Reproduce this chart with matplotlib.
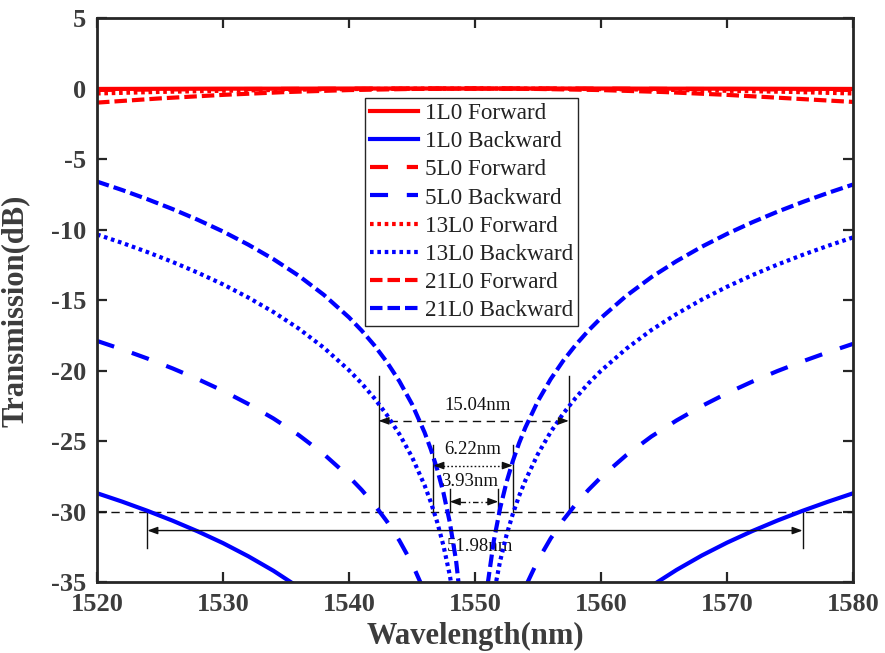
import numpy as np
import matplotlib
matplotlib.use("Agg")
import matplotlib.pyplot as plt

plt.rcParams['font.family'] = ['Liberation Serif', 'DejaVu Serif']
plt.rcParams['axes.unicode_minus'] = False
plt.rcParams['lines.scale_dashes'] = False

# ---------------- data ----------------
wl_fwd = [1520, 1525, 1530, 1535, 1540, 1545, 1550, 1555, 1560, 1565, 1570, 1575, 1580]
fwd_1L0 = [-0.03, -0.02, -0.01, -0.01, 0.0, 0.0, 0.0, 0.0, 0.0, -0.01, -0.01, -0.02, -0.03]
fwd_5L0 = [-0.10, -0.07, -0.045, -0.025, -0.01, 0.0, 0.0, 0.0, -0.01, -0.025, -0.045, -0.07, -0.10]
fwd_13L0 = [-0.35, -0.24, -0.16, -0.09, -0.04, -0.01, 0.0, -0.01, -0.04, -0.09, -0.16, -0.24, -0.35]
fwd_21L0 = [-1.0, -0.70, -0.45, -0.25, -0.11, -0.03, 0.0, -0.03, -0.11, -0.25, -0.45, -0.70, -0.95]

wl_bwd = [1520, 1522, 1524, 1526, 1528, 1530, 1532, 1534, 1536, 1538, 1540,
          1541, 1542, 1543, 1544, 1545, 1546, 1546.5, 1547, 1547.5, 1548, 1548.5,
          1549, 1549.5, 1550, 1550.5, 1551, 1551.5, 1552, 1552.5, 1553, 1553.5,
          1554, 1555, 1556, 1557, 1558, 1559, 1560, 1562, 1564, 1566, 1568, 1570,
          1572, 1574, 1576, 1578, 1580]
bwd_1L0 = [-28.7, -29.3, -29.95, -30.65, -31.41, -32.24, -33.17, -34.2, -35.37, -36.73, -38.33,
           -39.26, -40.3, -41.49, -42.86, -44.48, -46.49, -47.7, -49.1, -50.78, -52.86, -55.59,
           -59.61, -67.32, -74.78, -62.04, -57.09, -53.95, -51.65, -49.83, -48.33, -47.05,
           -45.94, -44.06, -42.52, -41.21, -40.08, -39.07, -38.17, -36.61, -35.28, -34.14, -33.12, -32.21,
           -31.39, -30.64, -29.95, -29.31, -28.71]
bwd_5L0 = [-17.9, -18.5, -19.15, -19.85, -20.61, -21.44, -22.37, -23.4, -24.57, -25.93, -27.53,
           -28.46, -29.5, -30.69, -32.06, -33.68, -35.69, -36.9, -38.3, -39.98, -42.06, -44.79,
           -48.81, -56.52, -64.18, -51.44, -46.49, -43.35, -41.05, -39.23, -37.73, -36.45,
           -35.34, -33.46, -31.92, -30.61, -29.48, -28.47, -27.57, -26.01, -24.68, -23.54, -22.52, -21.61,
           -20.79, -20.04, -19.35, -18.71, -18.11]
bwd_13L0 = [-10.35, -10.95, -11.6, -12.3, -13.06, -13.89, -14.82, -15.85, -17.02, -18.38, -19.98,
            -20.91, -21.95, -23.14, -24.51, -26.13, -28.14, -29.35, -30.75, -32.43, -34.51, -37.24,
            -41.26, -48.97, -56.63, -43.89, -38.94, -35.8, -33.5, -31.68, -30.18, -28.9,
            -27.79, -25.91, -24.37, -23.06, -21.93, -20.92, -20.02, -18.46, -17.13, -15.99, -14.97, -14.06,
            -13.24, -12.49, -11.8, -11.16, -10.56]
bwd_21L0 = [-6.6, -7.2, -7.85, -8.55, -9.31, -10.14, -11.07, -12.1, -13.27, -14.63, -16.23,
            -17.16, -18.2, -19.39, -20.76, -22.38, -24.39, -25.6, -27.0, -28.68, -30.76, -33.49,
            -37.51, -45.22, -52.88, -40.14, -35.19, -32.05, -29.75, -27.93, -26.43, -25.15,
            -24.04, -22.16, -20.62, -19.31, -18.18, -17.17, -16.27, -14.71, -13.38, -12.24, -11.22, -10.31,
            -9.49, -8.74, -8.05, -7.41, -6.81]

labels = ['1L0 Forward', '1L0 Backward', '5L0 Forward', '5L0 Backward',
          '13L0 Forward', '13L0 Backward', '21L0 Forward', '21L0 Backward']

x_ticks = [1520, 1530, 1540, 1550, 1560, 1570, 1580]
y_ticks = [5, 0, -5, -10, -15, -20, -25, -30, -35]

# ---------------- styles ----------------
RED = '#ff0000'
BLUE = '#0000ff'
LW = 3.0
ls_solid = '-'
ls_5 = (0, (13, 13.5))
ls_13 = (0, (2.6, 2.7))
ls_21 = (0, (9, 3.6))

fig = plt.figure(figsize=(8.85, 6.53), dpi=100)
ax = fig.add_axes([0.1096, 0.1087, 0.8542, 0.8637])

series = [
    (wl_fwd, fwd_1L0, RED, ls_solid),
    (wl_bwd, bwd_1L0, BLUE, ls_solid),
    (wl_fwd, fwd_5L0, RED, ls_5),
    (wl_bwd, bwd_5L0, BLUE, ls_5),
    (wl_fwd, fwd_13L0, RED, ls_13),
    (wl_bwd, bwd_13L0, BLUE, ls_13),
    (wl_fwd, fwd_21L0, RED, ls_21),
    (wl_bwd, bwd_21L0, BLUE, ls_21),
]
handles = []
for (x, y, c, ls), lab in zip(series, labels):
    h, = ax.plot(x, y, color=c, lw=LW, linestyle=ls, label=lab, dash_capstyle='butt', zorder=3)
    handles.append(h)

# ---------------- annotations ----------------
K = '#111111'
ax.axhline(-30, color=K, lw=1.0, linestyle=(0, (6, 4)), zorder=2)

def arrow_end(x_from, x_to, y):
    ax.annotate('', xy=(x_to, y), xytext=(x_from, y),
                arrowprops=dict(arrowstyle='-|>,head_length=0.6,head_width=0.22',
                                color=K, lw=1.0, shrinkA=0, shrinkB=0,
                                mutation_scale=10))

# 51.98 nm
ax.plot([1524.0, 1524.0], [-30, -32.6], color=K, lw=1.0)
ax.plot([1576.0, 1576.0], [-30, -32.6], color=K, lw=1.0)
ax.annotate('', xy=(1524.0, -31.35), xytext=(1576.0, -31.35),
            arrowprops=dict(arrowstyle='<|-|>,head_length=0.6,head_width=0.22',
                            color=K, lw=1.0, shrinkA=0, shrinkB=0, mutation_scale=10))
ax.text(1550.4, -32.5, '51.98nm', ha='center', va='center', fontsize=13.5, color=K, zorder=1)

# 15.04 nm
for xv in (1542.35, 1557.45):
    ax.plot([xv, xv], [-20.4, -30], color=K, lw=1.0)
ax.plot([1543.2, 1556.6], [-23.57, -23.57], color=K, lw=1.0, linestyle=(0, (6, 4)))
arrow_end(1543.2, 1542.35, -23.57)
arrow_end(1556.6, 1557.45, -23.57)
ax.text(1550.2, -22.5, '15.04nm', ha='center', va='center', fontsize=13.5, color=K)

# 6.22 nm
for xv in (1546.7, 1553.0):
    ax.plot([xv, xv], [-25.27, -30], color=K, lw=1.0)
ax.plot([1547.5, 1552.2], [-26.74, -26.74], color=K, lw=1.0, linestyle=(0, (1.2, 1.6)))
arrow_end(1547.5, 1546.7, -26.74)
arrow_end(1552.2, 1553.0, -26.74)
ax.text(1549.85, -25.6, '6.22nm', ha='center', va='center', fontsize=13.5, color=K)

# 3.93 nm
for xv in (1548.0, 1551.85):
    ax.plot([xv, xv], [-28.4, -30], color=K, lw=1.0)
ax.plot([1548.8, 1551.05], [-29.3, -29.3], color=K, lw=1.0, linestyle=(0, (4, 2, 1, 2)))
arrow_end(1548.8, 1548.0, -29.3)
arrow_end(1551.05, 1551.85, -29.3)
ax.text(1549.6, -27.9, '3.93nm', ha='center', va='center', fontsize=13.5, color=K)

# ---------------- axes ----------------
ax.set_xlim(1520, 1580)
ax.set_ylim(-35, 5)
ax.set_xticks(x_ticks)
ax.set_yticks(y_ticks)
TICKC = '#3c3c3c'
ax.tick_params(direction='in', length=7, width=1.6, top=True, right=True,
               labelsize=19, labelcolor=TICKC, color='#262626', pad=8)
for lab in ax.get_xticklabels() + ax.get_yticklabels():
    lab.set_fontweight('bold')
for s in ax.spines.values():
    s.set_linewidth(2.0)
    s.set_color('#262626')
    s.set_zorder(5)

ax.set_xlabel('Wavelength(nm)', fontsize=22, fontweight='bold', color=TICKC, labelpad=4)
ax.set_ylabel('Transmission(dB)', fontsize=22, fontweight='bold', color=TICKC)
ax.yaxis.set_label_coords(-0.089, 0.48)

leg = ax.legend(handles=handles, loc='upper left', bbox_to_anchor=(0.3545, 0.858),
                borderaxespad=0, fontsize=16.7, handlelength=2.1, handletextpad=0.3,
                borderpad=0.2, labelspacing=0.3, frameon=True, fancybox=False,
                edgecolor='#262626', framealpha=1)
leg.get_frame().set_linewidth(1.0)
leg.set_zorder(6)
for t in leg.get_texts():
    t.set_color('#222222')

fig.savefig('out.png', dpi=100)
